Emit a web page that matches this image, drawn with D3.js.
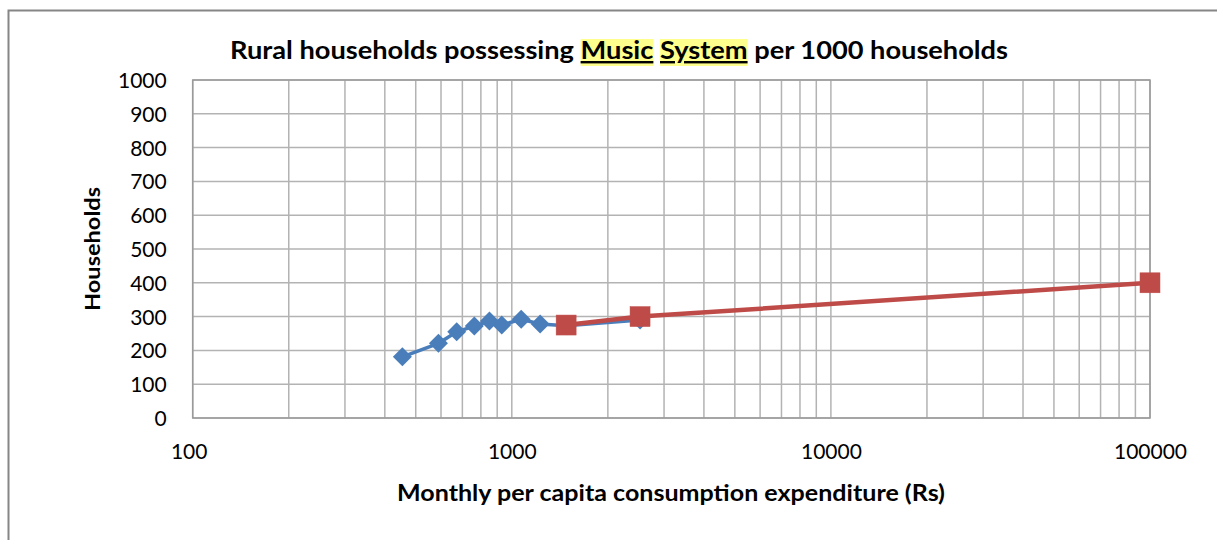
<!DOCTYPE html>
<html><head><meta charset="utf-8">
<script src="https://cdn.jsdelivr.net/npm/d3@7"></script>
<style>html,body{margin:0;padding:0;background:#fff;}svg{display:block;}</style>
</head><body>
<svg id="c" width="1217" height="540"></svg>
<script>
const titleText = "Rural households possessing Music System per 1000 households";
const xTitle = "Monthly per capita consumption expenditure (Rs)";
const yTitle = "Households";
const blueX = [454, 589, 672, 763, 851, 930, 1070, 1227, 1480, 2523];
const blueY = [181, 221, 255, 272, 287, 275, 292, 278, 273, 290];
const redX = [1480, 2523, 100000];
const redY = [275, 300, 400];
const xTicks = [100, 1000, 10000, 100000];
const yTicks = [0,100,200,300,400,500,600,700,800,900,1000];

const svg = d3.select("#c");
const F = "Lato, 'Open Sans', sans-serif";
const L = 192.7, R = 1150, T = 80, B = 418;
const x = d3.scaleLog().domain([100, 100000]).range([L, R]);
const y = d3.scaleLinear().domain([0, 1000]).range([B, T]);

// outer border
svg.append("rect").attr("x", 8.5).attr("y", 10.5).attr("width", 1220).attr("height", 540)
  .attr("fill", "#fff").attr("stroke", "#868686").attr("stroke-width", 2);

// grid
const minor = [];
for (let d = 100; d < 100000; d *= 10) for (let k = 1; k <= 10; k++) minor.push(d * k);
const g = svg.append("g");
g.selectAll("line.v").data(Array.from(new Set(minor))).enter().append("line")
  .attr("x1", d => x(d)).attr("x2", d => x(d)).attr("y1", T).attr("y2", B)
  .attr("stroke", "#b3b3b3").attr("stroke-width", 1.5);
g.selectAll("line.h").data(yTicks).enter().append("line")
  .attr("x1", L).attr("x2", R).attr("y1", d => y(d)).attr("y2", d => y(d))
  .attr("stroke", "#b3b3b3").attr("stroke-width", 1.5);
g.append("rect").attr("x", L).attr("y", T).attr("width", R - L).attr("height", B - T)
  .attr("fill", "none").attr("stroke", "#9a9a9a").attr("stroke-width", 1.5);

// axes labels
const yAxis = d3.axisLeft(y).tickValues(yTicks).tickSize(0).tickPadding(26).tickFormat(d3.format("d"));
const ya = svg.append("g").attr("transform", `translate(${L},0)`).call(yAxis);
ya.select(".domain").remove();
ya.selectAll("text").attr("font-family", F).attr("font-size", 21).attr("fill", "#000").attr("dy", "0.36em");

const xAxis = d3.axisBottom(x).tickValues(xTicks).tickSize(0).tickPadding(26).tickFormat(d3.format("d"));
const xa = svg.append("g").attr("transform", `translate(0,${B})`).call(xAxis);
xa.select(".domain").remove();
xa.selectAll("text").attr("font-family", F).attr("font-size", 21).attr("fill", "#000")
  .attr("dx", (d, i) => i === 0 ? -4 : 0);

// series
const blue = blueX.map((v, i) => [v, blueY[i]]);
const red = redX.map((v, i) => [v, redY[i]]);
const line = d3.line().x(d => x(d[0])).y(d => y(d[1]));
svg.append("path").attr("d", line(blue)).attr("fill", "none").attr("stroke", "#4a7ebb").attr("stroke-width", 3.5);
svg.selectAll("path.dia").data(blue).enter().append("path")
  .attr("d", d3.symbol().type(d3.symbolSquare).size(180))
  .attr("transform", d => `translate(${x(d[0])},${y(d[1])}) rotate(45)`)
  .attr("fill", "#4a7ebb");
svg.append("path").attr("d", line(red)).attr("fill", "none").attr("stroke", "#be4b48").attr("stroke-width", 4.5);
svg.selectAll("rect.sq").data(red).enter().append("rect")
  .attr("x", d => x(d[0]) - 10).attr("y", d => y(d[1]) - 10).attr("width", 20).attr("height", 20)
  .attr("fill", "#be4b48").attr("stroke", "#c0504d").attr("stroke-width", 0.5);

// title with highlight
const tg = svg.append("g");
const tt = tg.append("text").attr("x", 619).attr("y", 59).attr("text-anchor", "middle")
  .attr("font-family", F).attr("font-size", 24).attr("font-weight", "bold").attr("fill", "#000");
tt.append("tspan").text("Rural households possessing ");
const s1 = tt.append("tspan").text("Music").attr("text-decoration", "underline");
tt.append("tspan").text(" ");
const s2 = tt.append("tspan").text("System").attr("text-decoration", "underline");
tt.append("tspan").text(" per 1000 households");
tt.attr("textLength", 778).attr("lengthAdjust", "spacingAndGlyphs");
const node = tt.node();
const p1 = titleText.indexOf("Music");
[[p1, 5], [p1 + 6, 6]].forEach(([start, n]) => {
  const a = node.getExtentOfChar(start), b = node.getExtentOfChar(start + n - 1);
  tg.insert("rect", "text").attr("x", a.x).attr("y", a.y + 4).attr("width", b.x + b.width - a.x)
    .attr("height", a.height - 2).attr("fill", "#ffff70").attr("opacity", 0.8);
});

svg.append("text").attr("x", 671).attr("y", 501).attr("text-anchor", "middle")
  .attr("font-family", F).attr("font-size", 22).attr("font-weight", "bold")
  .attr("textLength", 548).attr("lengthAdjust", "spacingAndGlyphs").text(xTitle);
svg.append("text").attr("transform", "translate(100,249) rotate(-90)").attr("text-anchor", "middle")
  .attr("font-family", F).attr("font-size", 21).attr("font-weight", "bold")
  .attr("textLength", 124).attr("lengthAdjust", "spacingAndGlyphs").text(yTitle);
</script>
</body></html>
